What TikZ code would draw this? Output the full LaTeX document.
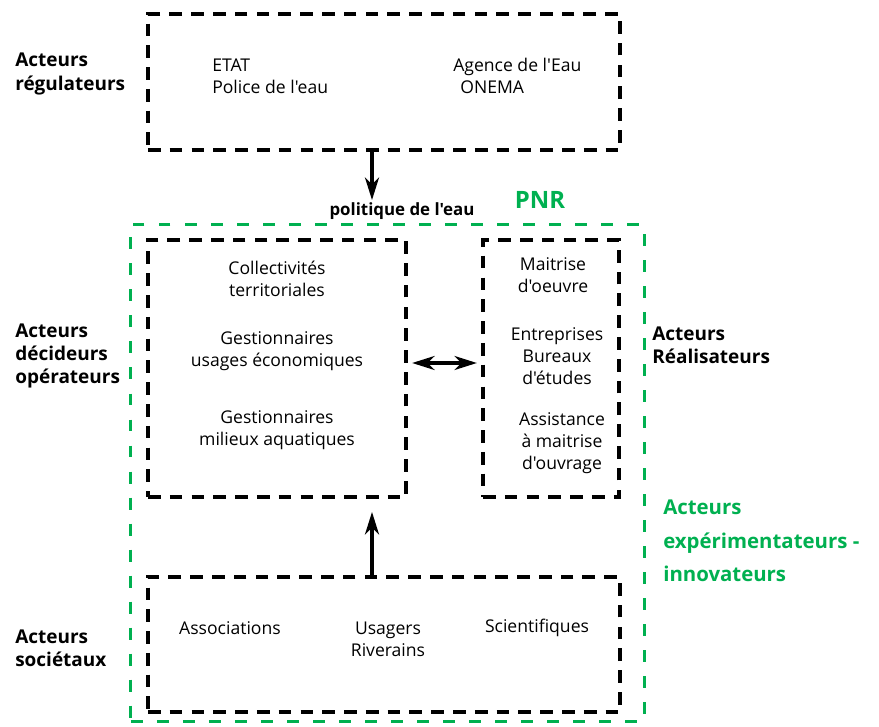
\documentclass[tikz,border=0pt]{standalone}
\usepackage{fontspec}
\setmainfont{Open Sans}[Ligatures=TeXOff]
\usepackage{tikz}
\usetikzlibrary{arrows.meta}
\definecolor{pnrgreen}{RGB}{0,176,80}

\begin{document}
\begin{tikzpicture}[x=0.025cm,y=-0.025cm,>={Stealth[length=16pt,width=10pt,inset=5pt]},
  box/.style={draw,line width=2.7pt,dash pattern=on 9pt off 6.5pt,inner sep=0pt},
  pnr box/.style={draw=pnrgreen,line width=2.1pt,dash pattern=on 8.5pt off 10pt,inner sep=0pt},
  actor/.style={font=\fontsize{13.5}{16.5}\selectfont\bfseries,align=left,anchor=west,inner sep=0pt},
  item/.style={font=\fontsize{12.5}{15.5}\selectfont,align=center,inner sep=0pt},
  link/.style={line width=2.2pt}]

  \useasboundingbox (0,0) rectangle (879,727);

  % frames
  \node[box,minimum width=11.8cm,minimum height=3.4cm] (reg) at (384,82) {};
  \node[pnr box,minimum width=12.825cm,minimum height=12.4cm] (pnr) at (387.5,473) {};
  \node[box,minimum width=6.45cm,minimum height=6.425cm] (dec) at (277,368.5) {};
  \node[box,minimum width=3.4cm,minimum height=6.425cm] (rea) at (551,368.5) {};
  \node[box,minimum width=11.8cm,minimum height=3.375cm] (soc) at (384,644.5) {};

  % actors
  \node[actor] (lreg) at (15,74) {Acteurs\\régulateurs};
  \node[actor] (ldec) at (15,356) {Acteurs\\décideurs\\opérateurs};
  \node[actor] (lrea) at (652,345) {Acteurs\\Réalisateurs};
  \node[actor] (lsoc) at (15,648) {Acteurs\\sociétaux};
  \node[actor,text=pnrgreen,font=\fontsize{14.5}{24}\selectfont\bfseries] (lexp) at (663,541)
    {Acteurs\\expérimentateurs -\\innovateurs};
  \node[text=pnrgreen,font=\fontsize{17}{20}\selectfont\bfseries,inner sep=0pt] (pnrlabel) at (540,200) {PNR};
  \node[font=\fontsize{12}{13}\selectfont\bfseries,inner sep=0pt] (pol) at (402,211) {politique de l'eau};

  % contents
  \node[item,align=left,anchor=west] (etat) at (212,76) {ETAT\\Police de l'eau};
  \node[item,align=left,anchor=west] (agence) at (453,76) {Agence de l'Eau\\\hspace*{5pt}ONEMA};
  \node[item] (coll) at (277,279) {Collectivités\\territoriales};
  \node[item] (gest1) at (277,351) {Gestionnaires\\usages économiques};
  \node[item] (gest2) at (277,430) {Gestionnaires\\milieux aquatiques};
  \node[item] (moe) at (553,275) {Maitrise\\d'oeuvre};
  \node[item] (entr) at (557,356) {Entreprises\\Bureaux\\d'études};
  \node[item] (amo) at (562,443) {Assistance\\à maitrise\\d'ouvrage};
  \node[item] (assoc) at (230,628) {Associations};
  \node[item] (usagers) at (388,639) {Usagers\\Riverains};
  \node[item] (scient) at (537,628) {Scientifiques};

  % links
  \coordinate (poltop) at (372,200);
  \coordinate (decin) at (372,512);
  \draw[link,->] (reg.south -| poltop) -- (poltop);
  \draw[link,<->,shorten <=3pt,shorten >=3pt] (dec.east |- 0,363) -- (rea.west |- 0,363);
  \draw[link,->] (soc.north -| decin) -- (decin);
\end{tikzpicture}
\end{document}
